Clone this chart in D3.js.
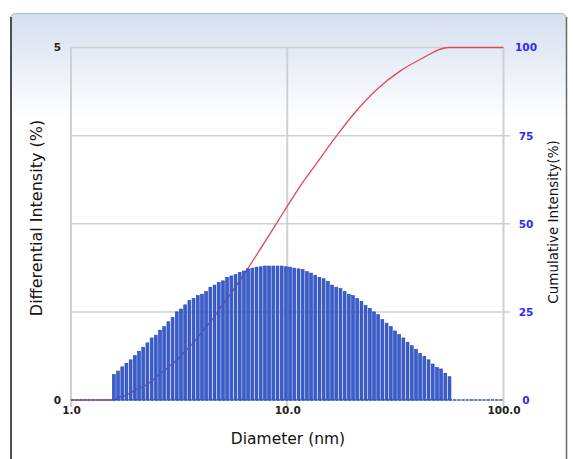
<!DOCTYPE html>
<html><head><meta charset="utf-8">
<script src="https://cdn.jsdelivr.net/npm/d3@7"></script>
<style>html,body{margin:0;padding:0;background:#fff}svg{display:block}</style>
</head><body><svg id="c" width="573" height="459"></svg>
<script>
// ---- data ----
const diameters = [1.579,1.651,1.727,1.805,1.888,1.974,2.064,2.159,2.257,2.361,2.468,2.581,2.699,2.822,2.951,3.086,3.227,3.375,3.529,3.690,3.859,4.035,4.219,4.412,4.614,4.824,5.045,5.275,5.516,5.768,6.032,6.308,6.596,6.897,7.212,7.542,7.886,8.247,8.624,9.018,9.430,9.860,10.31,10.78,11.28,11.79,12.33,12.89,13.48,14.10,14.74,15.41,16.12,16.86,17.63,18.43,19.27,20.15,21.07,22.04,23.04,24.10,25.20,26.35,27.55,28.81,30.13,31.50,32.94,34.45,36.02,37.67,39.39,41.19,43.07,45.04,47.09,49.25,51.50,53.85,56.31];
const diffValues = [0.36,0.41,0.47,0.52,0.57,0.63,0.69,0.75,0.81,0.88,0.92,0.99,1.04,1.11,1.17,1.25,1.29,1.35,1.41,1.44,1.48,1.50,
1.54,1.60,1.63,1.67,1.69,1.74,1.76,1.78,1.81,1.83,1.86,1.87,1.885,1.89,1.90,1.90,1.90,1.90,1.90,1.89,1.885,1.87,1.86,
1.85,1.82,1.80,1.77,1.74,1.72,1.68,1.63,1.60,1.58,1.54,1.50,1.48,1.44,1.40,1.34,1.30,1.25,1.21,1.14,1.09,1.04,0.98,
0.93,0.88,0.82,0.77,0.72,0.66,0.62,0.57,0.51,0.46,0.44,0.38,0.33];
const cumDiameters = [1.0,1.564,1.654,1.810,1.977,2.278,2.490,2.627,2.870,3.135,3.306,3.465,3.627,4.166,4.550,5.008,5.248,6.330,8.936,10.11,11.46,13.69,16.93,20.20,25.93,33.22,41.11,55.57,100];
const cumValues    = [0,0,0.7,1.4,2.8,4.7,6.6,7.8,9.7,11.7,13.3,14.6,15.8,20.4,23.2,27.0,28.6,35.8,50.2,55.4,60.6,67.2,75.0,81.0,88.1,93.3,96.6,100,100];
const xTicks = [1, 10, 100];
const leftTicks = [0, 5];
const rightTicks = [0, 25, 50, 75, 100];

// ---- layout ----
const svg = d3.select("#c");
const x = d3.scaleLog().domain([1,100]).range([71,503.5]);
const yL = d3.scaleLinear().domain([0,5]).range([400,47.5]);
const yR = d3.scaleLinear().domain([0,100]).range([400,47.5]);

// background panel
const defs = svg.append("defs");
const g = defs.append("linearGradient").attr("id","bg").attr("gradientUnits","userSpaceOnUse")
  .attr("x1",0).attr("y1",14).attr("x2",0).attr("y2",120);
g.append("stop").attr("offset","0%").attr("stop-color","#d5dfef");
g.append("stop").attr("offset","100%").attr("stop-color","#ffffff");
svg.append("rect").attr("x",0).attr("y",0).attr("width",573).attr("height",459).attr("fill","#fff");
svg.append("rect").attr("x",10.5).attr("y",13.5).attr("width",556).attr("height",470).attr("rx",5)
  .attr("fill","url(#bg)").attr("stroke","#b4b4b4").attr("stroke-width",1);
svg.append("line").attr("x1",11).attr("x2",11).attr("y1",17).attr("y2",459).attr("stroke","#505050").attr("stroke-width",2);
svg.append("line").attr("x1",566.5).attr("x2",566.5).attr("y1",17).attr("y2",459).attr("stroke","#6a6a6a").attr("stroke-width",1.5);

// grid
const gridCol = "#cdd0d4";
svg.append("g").selectAll("line").data(rightTicks.filter(d=>d>0 && d<100)).join("line")
  .attr("x1",x(1)).attr("x2",x(100)+7).attr("y1",d=>yR(d)).attr("y2",d=>yR(d))
  .attr("stroke",gridCol).attr("stroke-width",1.5);
svg.append("line").attr("x1",x(1)).attr("x2",x(100)).attr("y1",yR(100)).attr("y2",yR(100))
  .attr("stroke",gridCol).attr("stroke-width",1.5);
svg.append("line").attr("x1",x(1)).attr("x2",x(100)).attr("y1",yR(0)).attr("y2",yR(0))
  .attr("stroke",gridCol).attr("stroke-width",1.5);
svg.append("g").selectAll("line").data(xTicks).join("line")
  .attr("x1",d=>x(d)).attr("x2",d=>x(d)).attr("y1",yR(100)).attr("y2",yR(0)+7)
  .attr("stroke",gridCol).attr("stroke-width",2);

// cumulative line (behind bars)
svg.append("path").datum(cumDiameters.map((d,i)=>[d,cumValues[i]]))
  .attr("fill","none").attr("stroke","#e2475c").attr("stroke-width",1.3)
  .attr("d", d3.line().curve(d3.curveMonotoneX).x(d=>x(d[0])).y(d=>yR(d[1])));

// zero baseline
svg.append("line").attr("x1",x(1)).attr("x2",x(100)).attr("y1",400).attr("y2",400)
  .attr("stroke","#3a5cd0").attr("stroke-width",1.5).attr("stroke-dasharray","3,1.2");

// bars
const step = x(diameters[1]) - x(diameters[0]);
svg.append("g").selectAll("rect").data(diameters).join("rect")
  .attr("x",(d)=>x(d)-step/2+0.6)
  .attr("width",step-1.3)
  .attr("y",(d,i)=>yL(diffValues[i]))
  .attr("height",(d,i)=>yL(0)-yL(diffValues[i]))
  .attr("fill","#3a5ed2").attr("stroke","#2443a8").attr("stroke-width",0.6);

// axes labels
const tickFont = "DejaVu Sans, Verdana, sans-serif";
const xa = svg.append("g").attr("transform","translate(0,404)")
  .call(d3.axisBottom(x).tickValues(xTicks).tickFormat(d3.format(".1f")).tickSize(0).tickPadding(3));
xa.select(".domain").remove();
xa.selectAll("text").attr("font-family",tickFont).attr("font-size",10.5).attr("font-weight","bold").attr("fill","#222");

const la = svg.append("g").attr("transform","translate(61,0)")
  .call(d3.axisLeft(yL).tickValues(leftTicks).tickFormat(d3.format("d")).tickSize(0).tickPadding(0));
la.select(".domain").remove();
la.selectAll("text").attr("font-family",tickFont).attr("font-size",10.5).attr("font-weight","bold").attr("fill","#222");

const ra = svg.append("g").attr("transform","translate(526,0)")
  .call(d3.axisRight(yR).tickValues(rightTicks).tickFormat(d3.format("d")).tickSize(0).tickPadding(0));
ra.select(".domain").remove();
ra.selectAll("text").attr("font-family",tickFont).attr("font-size",10.5).attr("font-weight","bold")
  .attr("fill","#2a2aff").attr("text-anchor","middle");

// titles
svg.append("text").attr("x",288).attr("y",444).attr("text-anchor","middle")
  .attr("font-family",tickFont).attr("font-size",15.5).attr("fill","#111").text("Diameter (nm)");
svg.append("text").attr("transform","translate(42,218) rotate(-90)").attr("text-anchor","middle")
  .attr("font-family",tickFont).attr("font-size",16).attr("fill","#111").text("Differential Intensity (%)");
svg.append("text").attr("transform","translate(558,222) rotate(-90)").attr("text-anchor","middle")
  .attr("font-family",tickFont).attr("font-size",13.5).attr("fill","#111").text("Cumulative Intensity(%)");
</script></body></html>
